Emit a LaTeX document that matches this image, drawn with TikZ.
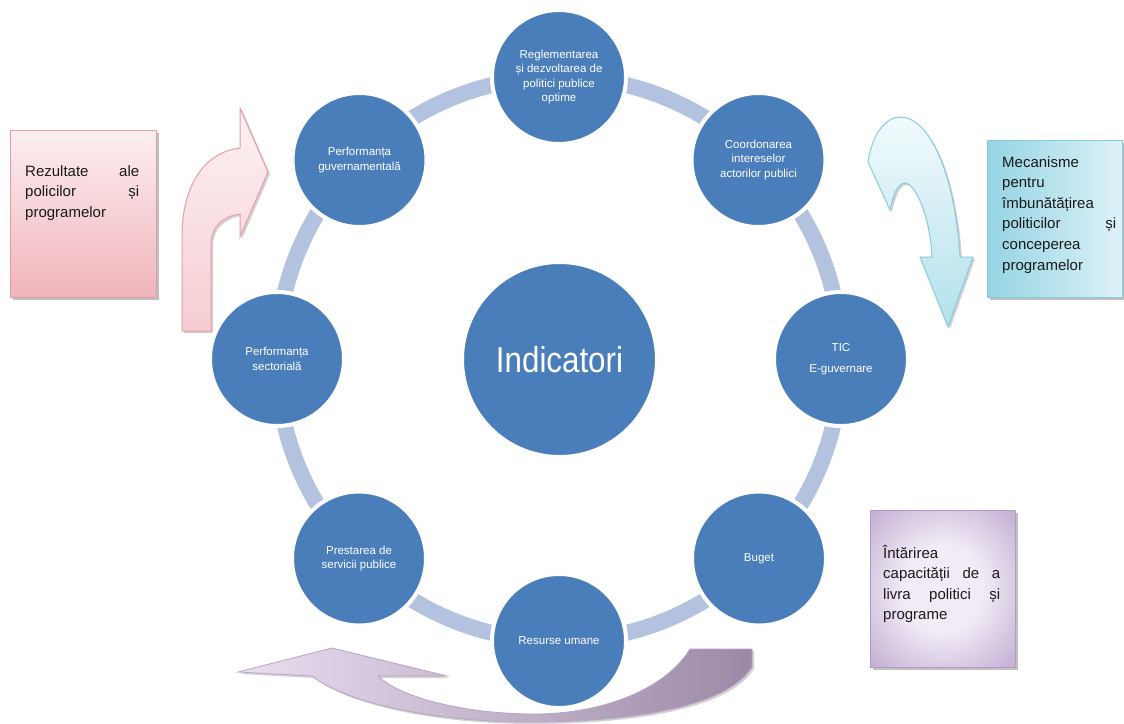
\documentclass[tikz,border=0pt]{standalone}
\usepackage{fontspec}
\setmainfont{Liberation Sans}
\usetikzlibrary{shadows}
\definecolor{cblue}{HTML}{4A7EBB}
\definecolor{ringc}{HTML}{B3C2DE}
\definecolor{pinkedge}{HTML}{E59DA6}
\definecolor{pinktop}{HTML}{FCEEF0}
\definecolor{pinkbot}{HTML}{F0B4BB}
\definecolor{pinkarrT}{HTML}{FDF2F3}
\definecolor{pinkarrB}{HTML}{F5CDD2}
\definecolor{cyanedge}{HTML}{86CBDC}
\definecolor{cyanL}{HTML}{95D4E4}
\definecolor{cyanR}{HTML}{DDF2F7}
\definecolor{cyanarrT}{HTML}{F2FAFC}
\definecolor{cyanarrB}{HTML}{B2E1EC}
\definecolor{purpedge}{HTML}{B39BC8}
\definecolor{purpin}{HTML}{F1EBF5}
\definecolor{purpout}{HTML}{B8A0CB}
\definecolor{purparrL}{HTML}{E8DFF0}
\definecolor{purparrM}{HTML}{D9CDE2}
\definecolor{purparrR}{HTML}{9C89A7}
\definecolor{purparredge}{HTML}{B7A4C6}
\definecolor{boxtxt}{HTML}{1A1A1A}
\pgfdeclareradialshading{purpbox}{\pgfpoint{0bp}{0bp}}{color(0bp)=(purpin); color(14bp)=(purpin); color(40bp)=(purpout); color(50bp)=(purpout)}
\begin{document}
\begin{tikzpicture}[x=1pt,y=-1pt,
  smallc/.style={circle, fill=cblue, draw=white, line width=4pt, minimum size=134pt,
    inner sep=0pt, text=white, align=center, font=\fontsize{11.5}{14.5}\selectfont},
  bigc/.style={circle, fill=cblue, draw=white, line width=4pt, minimum size=195pt,
    inner sep=0pt, text=white, font=\fontsize{36}{40}\selectfont},
  boxtext/.style={anchor=base west, inner sep=0pt, text=boxtxt,
    font=\fontsize{15}{20.6}\selectfont},
  boxshadow/.style={drop shadow={shadow xshift=2.5pt, shadow yshift=-2.5pt, opacity=0.35, fill=black!70}},
  arrshadow/.style={drop shadow={shadow xshift=2pt, shadow yshift=-2pt, opacity=0.25, fill=black!70}}
]
\useasboundingbox (0,0) rectangle (1124,723);
\fill[white] (0,0) rectangle (1124,723);

% ring
\draw[ringc, line width=16pt] (559,359) circle[radius=282];

% decorative arrows
\draw[pinkedge, line width=1pt, top color=pinkarrT, bottom color=pinkarrB, arrshadow]
  (182,331) -- (182,236) .. controls (182,185) and (205,152) .. (240,148)
  -- (240,108) -- (268,172) -- (240,237) -- (240,214)
  .. controls (224,216) and (211,226) .. (211,245) -- (211,331) -- cycle;

\draw[cyanedge, line width=1pt, top color=cyanarrT, bottom color=cyanarrB, arrshadow]
  (868,162) .. controls (872,135) and (885,117) .. (900,117)
  .. controls (930,117) and (955,175) .. (960,257)
  -- (973,257) -- (948,327) -- (920,257) -- (932,257)
  .. controls (930,215) and (915,183) .. (905,183)
  .. controls (898,183) and (893,195) .. (890,210) -- cycle;

\draw[purparredge, line width=0.8pt, left color=purparrL, middle color=purparrM, right color=purparrR, arrshadow]
  (238,672) -- (332,648) -- (447,676) -- (378,676)
  .. controls (400,697) and (460,713) .. (530,714)
  .. controls (600,715) and (665,690) .. (690,649)
  -- (752,649) -- (752,667)
  .. controls (725,710) and (620,722) .. (530,722)
  .. controls (440,722) and (350,705) .. (312,676) -- cycle;

% circles
\node[bigc] (ind) at (559.5,359.5) {\scalebox{0.87}[1]{Indicatori}};
\node[smallc] (c1) at (559,77) {Reglementarea\\și dezvoltarea de\\politici publice\\optime};
\node[smallc] (c2) at (758.5,160) {Coordonarea\\intereselor\\actorilor publici};
\node[smallc] (c3) at (841,359) {TIC\\[7pt]E-guvernare};
\node[smallc] (c4) at (759,558.5) {Buget};
\node[smallc] (c5) at (559,641) {Resurse umane};
\node[smallc] (c6) at (359,558.5) {Prestarea de\\servicii publice};
\node[smallc] (c7) at (277,359) {Performanța\\sectorială};
\node[smallc] (c8) at (359.5,160) {Performanța\\guvernamentală};

% boxes
\draw[pinkedge, line width=1pt, top color=pinktop, bottom color=pinkbot, boxshadow]
  (10,130) rectangle (156,297);
\node[boxtext] (t1) at (25,176) {\parbox[t]{114pt}{%
  \makebox[114pt][s]{Rezultate ale}\\
  \makebox[114pt][s]{policilor și}\\
  programelor}};

\draw[cyanedge, line width=1pt, left color=cyanL, right color=cyanR, boxshadow]
  (987,140) rectangle (1122,297);
\node[boxtext] (t2) at (1002,167) {\parbox[t]{114pt}{%
  Mecanisme\\
  pentru\\
  îmbunătățirea\\
  \makebox[114pt][s]{politicilor și}\\
  conceperea\\
  programelor}};

\draw[purpedge, line width=1pt, shading=purpbox, boxshadow]
  (870,510) rectangle (1015,667);
\node[boxtext] (t3) at (883,558) {\parbox[t]{117pt}{%
  Întărirea\\
  \makebox[117pt][s]{capacității de a}\\
  \makebox[117pt][s]{livra politici și}\\
  programe}};
\end{tikzpicture}
\end{document}
